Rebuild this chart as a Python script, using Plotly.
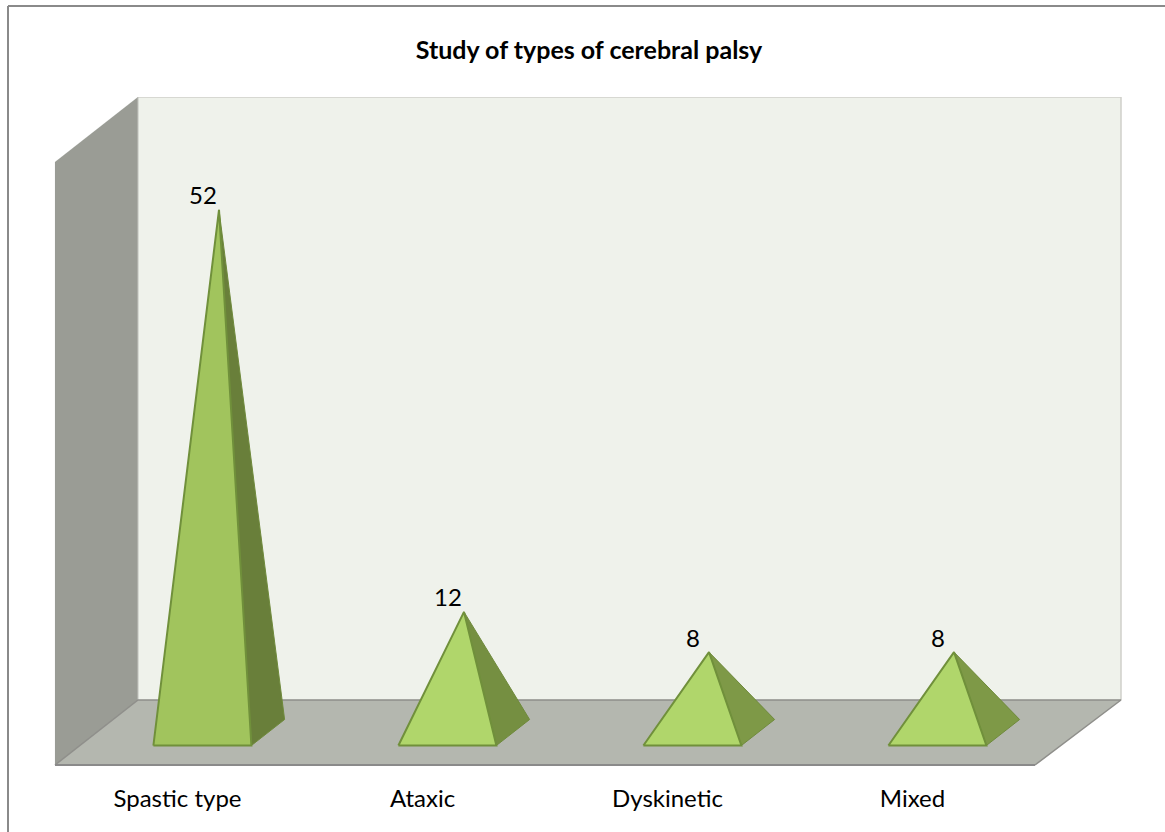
import plotly.graph_objects as go

# Data
categories = ["Spastic type", "Ataxic", "Dyskinetic", "Mixed"]
values = [52, 12, 8, 8]
front_colors = ["#A1C45D", "#B0D66B", "#B0D66B", "#B0D66B"]
side_colors = ["#697F3A", "#758F41", "#7E9947", "#7E9947"]
title_text = "Study of types of cerebral palsy"

# Oblique-projection settings, in axis units
AXIS_MAX = 60
DEPTH_X = 83 / 245
DEPTH_Y = 65 / 10.05
BACK_EXTRA = 3 / 245
BASE_W = 0.2
BASE_D = 0.2
X0, X1 = -0.5, 3.5
FONT = "Lato, Carlito, sans-serif"

# Plot-area pixels (floor front edge at y=765, plot runs a little below so its line is not clipped)
W, H = 1165, 832
PL, PR, PT, PB = 53, 1124, 97, 768
FLOOR_PX = 765
X_RANGE = [X0 - (55 - PL) / 245, X0 + (PR - 55) / 245]
Y_RANGE = [-(PB - FLOOR_PX) / 10.05, (FLOOR_PX - PT) / 10.05]

fig = go.Figure()


def poly(xs, ys, fill, line=None, width=0):
    fig.add_trace(go.Scatter(
        x=xs + xs[:1], y=ys + ys[:1], mode="lines", fill="toself", fillcolor=fill,
        line=dict(color=line or fill, width=width or 0.1),
        hoverinfo="skip", showlegend=False, cliponaxis=False))


def seg(xs, ys, color, width):
    fig.add_trace(go.Scatter(x=xs, y=ys, mode="lines", line=dict(color=color, width=width),
                             hoverinfo="skip", showlegend=False, cliponaxis=False))


BL, BR = X0 + DEPTH_X, X1 + DEPTH_X + BACK_EXTRA

# Walls and floor
poly([BL, BR, BR, BL],
     [DEPTH_Y, DEPTH_Y, AXIS_MAX + DEPTH_Y, AXIS_MAX + DEPTH_Y], "#EFF2EB")
seg([BL, BR, BR], [AXIS_MAX + DEPTH_Y, AXIS_MAX + DEPTH_Y, DEPTH_Y], "#CFCFCA", 1.5)
poly([X0, BL, BL, X0], [0, DEPTH_Y, AXIS_MAX + DEPTH_Y, AXIS_MAX], "#9A9C95")
seg([BL, BL], [DEPTH_Y, AXIS_MAX + DEPTH_Y], "#C4C5BF", 1)
poly([X0, X1, BR, BL], [0, 0, DEPTH_Y, DEPTH_Y], "#B4B7AF")
seg([X0, BL, BR, X1], [0, DEPTH_Y, DEPTH_Y, 0], "#8F8F8B", 1.5)
seg([X0, X1], [0, 0], "#8A8A8A", 2)

# Pyramids
for i, v in enumerate(values):
    cx = i + DEPTH_X * 0.5
    cy = DEPTH_Y * 0.5
    fl, fr = cx - BASE_W, cx + BASE_W
    dx, dy = DEPTH_X * BASE_D, DEPTH_Y * BASE_D
    apex = (cx, cy + v)
    poly([fr - dx, fr + dx, apex[0]],
         [cy - dy, cy + dy, apex[1]], side_colors[i], "#6F8A3C", 1)
    poly([fl - dx, fr - dx, apex[0]],
         [cy - dy, cy - dy, apex[1]], front_colors[i], "#70903B", 2)
    fig.add_annotation(x=apex[0], y=apex[1], text=str(v), showarrow=False,
                       xshift=-16.5, yshift=15, font=dict(family=FONT, size=24, color="#000000"))

# Outer frame
to_x = lambda p: (p - PL) / (PR - PL)
to_y = lambda p: (PB - p) / (PB - PT)
shapes = [
    dict(type="line", xref="paper", yref="paper", x0=to_x(8), x1=to_x(8),
         y0=to_y(832), y1=to_y(6), line=dict(color="#8A8A8A", width=2)),
    dict(type="line", xref="paper", yref="paper", x0=to_x(8), x1=to_x(1165),
         y0=to_y(6), y1=to_y(6), line=dict(color="#8A8A8A", width=2)),
]

fig.update_layout(
    width=W, height=H, autosize=False,
    margin=dict(l=PL, r=W - PR, t=PT, b=H - PB, pad=0, autoexpand=False),
    paper_bgcolor="#FFFFFF", plot_bgcolor="rgba(0,0,0,0)",
    title=dict(text=f"<b>{title_text}</b>", x=589 / W, xanchor="center", xref="container",
               y=1 - 50 / H, yanchor="middle", yref="container",
               font=dict(family=FONT, size=25, color="#000000")),
    xaxis=dict(range=X_RANGE, tickvals=list(range(len(categories))), ticktext=categories,
               ticks="outside", ticklen=9, tickcolor="rgba(0,0,0,0)", showgrid=False,
               zeroline=False, showline=False, fixedrange=True, automargin=False,
               tickfont=dict(family=FONT, size=24, color="#000000")),
    yaxis=dict(range=Y_RANGE, visible=False, fixedrange=True, automargin=False),
    shapes=shapes,
)
fig.write_html("out.html", config=dict(displayModeBar=False),
               post_script="document.body.style.margin='0';document.documentElement.style.overflow='hidden';")
